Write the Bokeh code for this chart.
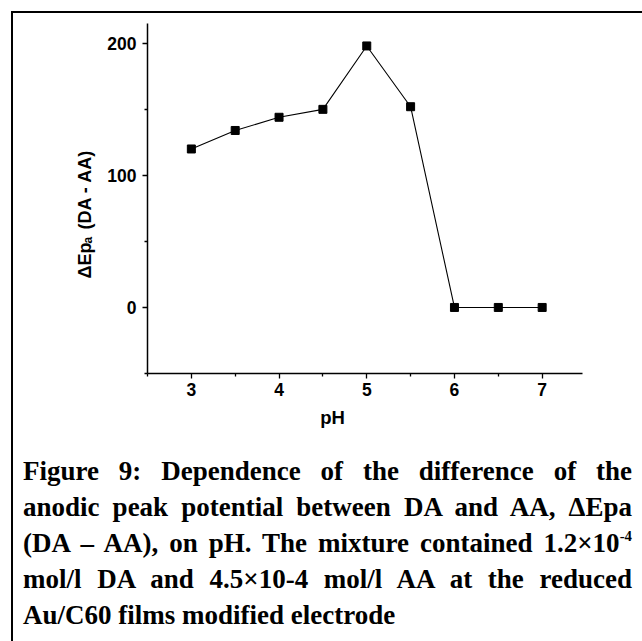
import math

from bokeh.core.properties import value
from bokeh.embed import file_html
from bokeh.layouts import column
from bokeh.models import Div, FixedTicker, Range1d
from bokeh.plotting import figure
from bokeh.resources import INLINE

# pH dependence of the anodic peak separation
ph = [3.0, 3.5, 4.0, 4.5, 5.0, 5.5, 6.0, 6.5, 7.0]
delta_epa = [120, 134, 144, 150, 198, 152, 0, 0, 0]

x_major = [3, 4, 5, 6, 7]
x_minor = [2.5, 3.5, 4.5, 5.5, 6.5]
y_major = [0, 100, 200]
y_minor = [-50, 50, 150]

x_title = "pH"
y_title_main = "\u0394Ep"
y_title_sub = "a"
y_title_rest = "(DA - AA)"

caption_lines = [
    "Figure 9: Dependence of the difference of the",
    "anodic peak potential between DA and AA, \u0394Epa",
    "(DA \u2013 AA), on pH. The mixture contained 1.2\u00d710"
    "<span style=\"font-size:0.55em;vertical-align:0.75em;line-height:0\">-4</span>",
    "mol/l DA and 4.5\u00d710-4 mol/l AA at the reduced",
    "Au/C60 films modified electrode",
]

SANS = "Liberation Sans"
SERIF = "Liberation Serif"

# axis extents in data units
X0, X1 = 2.5, 7.46
Y0, Y1 = -50, 215

# canvas size and where the axes sit on it (pixels from top-left)
FIG_W, FIG_H = 629, 437
AX_L, AX_R, AX_T, AX_B = 134, 569, 10, 360

x_per_px = (X1 - X0) / (AX_R - AX_L)
y_per_px = (Y1 - Y0) / (AX_B - AX_T)


def fx(px):
    return X0 + (px - AX_L) * x_per_px


def fy(py):
    return Y0 + (AX_B - py) * y_per_px


p = figure(
    width=FIG_W, height=FIG_H,
    x_range=Range1d(fx(0), fx(FIG_W)), y_range=Range1d(fy(FIG_H), fy(0)),
    output_backend="svg", toolbar_location=None,
    min_border=0,
)
p.outline_line_color = None
p.xgrid.visible = False
p.ygrid.visible = False
p.background_fill_color = "white"
p.border_fill_color = "white"

xa, ya = p.xaxis[0], p.yaxis[0]
xa.fixed_location = Y0
ya.fixed_location = X0
xa.bounds = (X0, X1)
ya.bounds = (Y0, Y1)

for ax in (xa, ya):
    ax.axis_line_width = 1.5
    ax.axis_line_color = "black"
    ax.major_tick_line_width = 1.3
    ax.minor_tick_line_width = 1.3
    ax.major_tick_in = 0
    ax.major_tick_out = 5
    ax.minor_tick_in = 0
    ax.minor_tick_out = 3
    ax.major_label_text_font = SANS
    ax.major_label_text_font_style = "bold"
    ax.major_label_text_font_size = "17.5px"
    ax.major_label_text_color = "black"
    ax.major_label_standoff = 6

xa.ticker = FixedTicker(ticks=x_major, minor_ticks=x_minor)
ya.ticker = FixedTicker(ticks=y_major, minor_ticks=y_minor)
xa.major_label_standoff = 4

p.line(ph, delta_epa, line_color="black", line_width=1.1)
p.scatter(ph, delta_epa, marker="square", size=8,
          fill_color="black", line_color="black")

# axis titles
title_font = dict(text_font=value(SANS), text_font_style="bold",
                  text_color="black", text_baseline="alphabetic")
p.text(x=[fx(319)], y=[fy(404)], text=[x_title], text_font_size="18.5px",
       text_align="center", **title_font)

up = math.pi / 2
p.text(x=[fx(71)], y=[fy(265)], text=[y_title_main], angle=up,
       text_font_size="18px", text_align="left", **title_font)
p.text(x=[fx(74)], y=[fy(230)], text=[y_title_sub], angle=up,
       text_font_size="12px", text_align="left", **title_font)
p.text(x=[fx(71)], y=[fy(216)], text=[y_title_rest], angle=up,
       text_font_size="18px", text_align="left", **title_font)

rows = []
for i, line in enumerate(caption_lines):
    last = i == len(caption_lines) - 1
    align = "left" if last else "justify"
    rows.append(
        f'<div style="text-align:justify;text-align-last:{align};'
        f'white-space:nowrap;">{line}</div>'
    )
caption = Div(
    text=(
        '<div style="width:609px;position:relative;top:-2px;">'
        + "".join(rows) + "</div>"
    ),
    width=629, height=191,
    styles={
        "font-family": f"'{SERIF}', serif",
        "font-weight": "bold",
        "font-size": "27px",
        "line-height": "36px",
        "color": "black",
        "padding-left": "5px",
        "box-sizing": "border-box",
        "background": "white",
    },
)

layout = column(
    p, caption, spacing=0,
    styles={
        "margin-left": "11px",
        "margin-top": "11px",
        "border-left": "2px solid black",
        "border-top": "2px solid black",
        "background": "white",
    },
)

open("out.html", "w").write(file_html(layout, INLINE))
